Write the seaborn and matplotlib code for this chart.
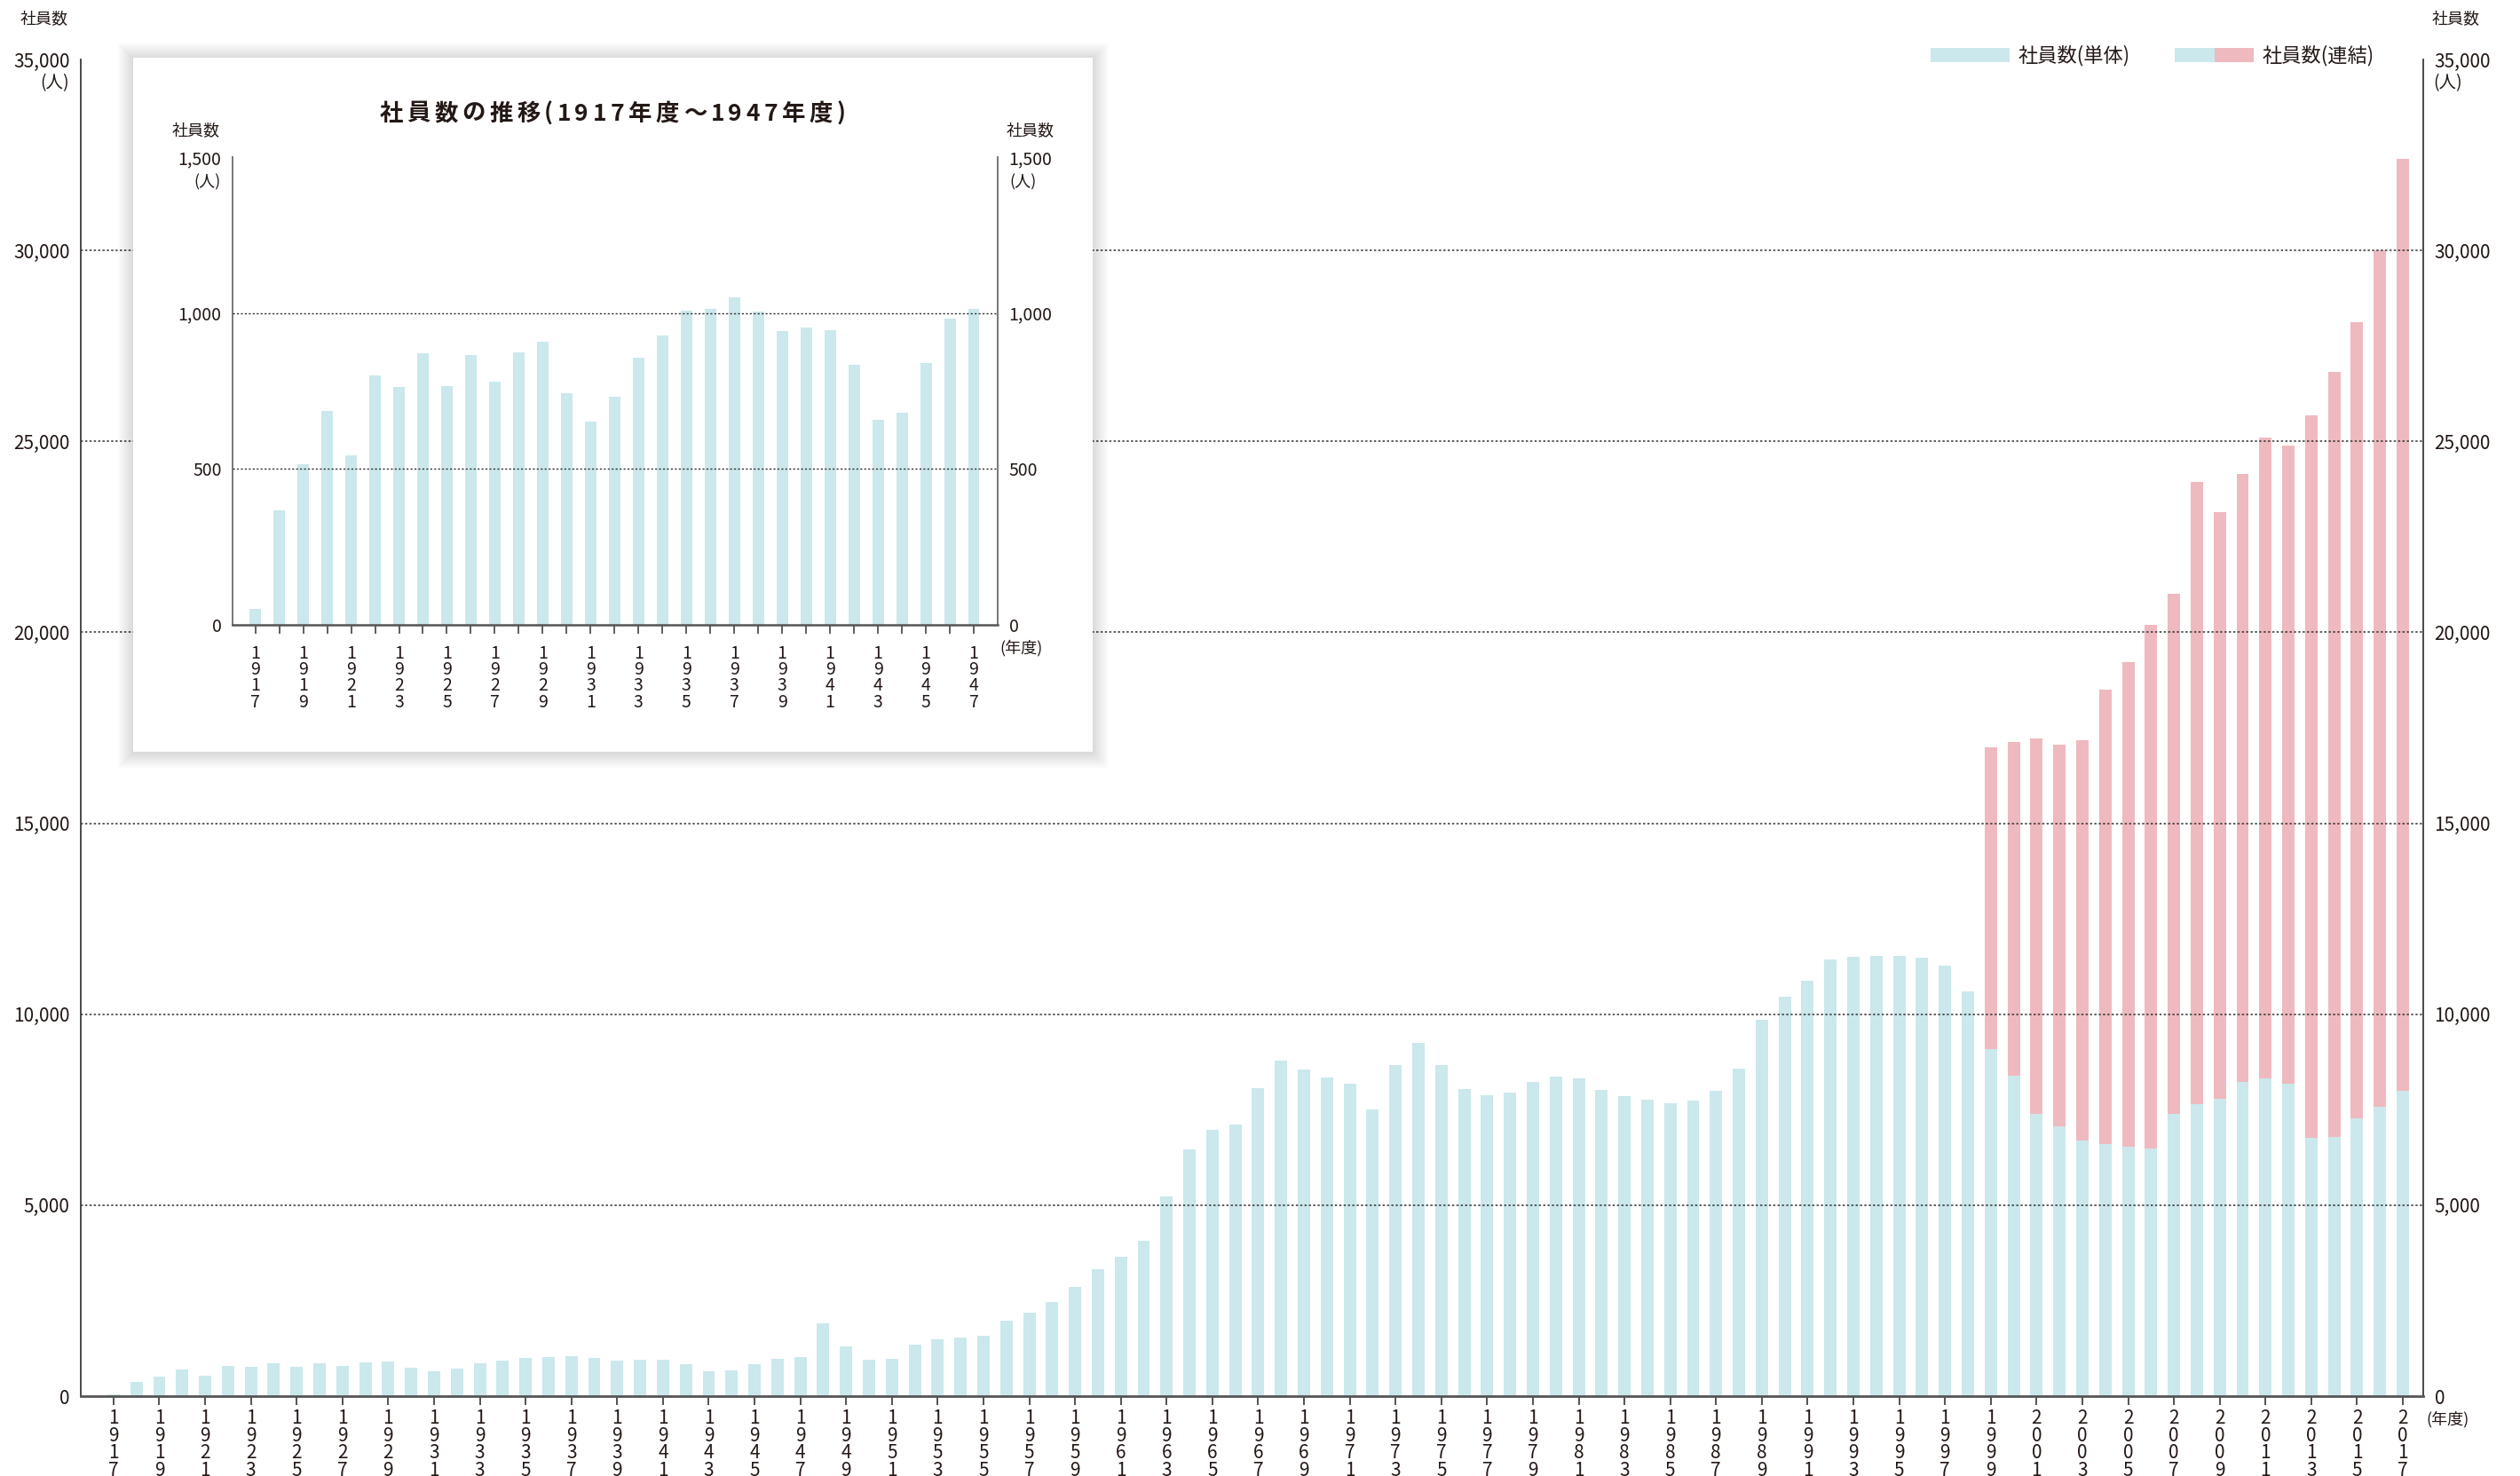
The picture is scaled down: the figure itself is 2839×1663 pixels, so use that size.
import matplotlib
matplotlib.use('Agg')
import matplotlib.pyplot as plt
import seaborn as sns
import pandas as pd
from matplotlib.patches import Patch, Rectangle
from matplotlib.legend_handler import HandlerTuple

# ---------------- data ----------------
years = list(range(1917, 2018))
standalone = [
    50, 367, 516, 687, 545, 799, 764, 871, 767, 864,            # 1917-1926
    781, 874, 909, 743, 651, 732, 858, 929, 1009, 1012,          # 1927-1936
    1051, 1006, 941, 954, 945, 835, 657, 681, 841, 983,          # 1937-1946
    1013, 1915, 1310, 961, 984, 1357, 1496, 1543, 1589, 1984,    # 1947-1956
    2194, 2473, 2868, 3333, 3659, 4078, 5240, 6460, 6970, 7110,  # 1957-1966
    8068, 8787, 8555, 8346, 8184, 7512, 8671, 9250, 8671, 8045,  # 1967-1976
    7883, 7952, 8230, 8369, 8323, 8022, 7859, 7767, 7674, 7743,  # 1977-1986
    7984, 8566, 9845, 10450, 10868, 11426, 11496, 11519, 11519, 11473,  # 1987-1996
    11264, 10589, 9078, 8380, 7388, 7054, 6682, 6589, 6519, 6473,       # 1997-2006
    7380, 7636, 7775, 8217, 8310, 8171, 6752, 6775, 7264, 7566,         # 2007-2016
    7984,                                                                # 2017
]
consolidated_years = list(range(1999, 2018))
consolidated = [
    17000, 17120, 17210, 17060, 17180, 18500, 19230, 20190, 21000, 23930,
    23140, 24140, 25090, 24900, 25690, 26830, 28120, 30000, 32400,
]
inset_years = years[:31]
inset_values = standalone[:31]

main_yticks = [0, 5000, 10000, 15000, 20000, 25000, 30000, 35000]
inset_yticks = [0, 500, 1000, 1500]

legend_labels = ['社員数(単体)', '社員数(連結)']
inset_title = '社員数の推移(1917年度～1947年度)'

# ---------------- style ----------------
BLUE = '#cbe8ec'
PINK = '#efb9c0'
INK = '#231815'
AXC = '#3a3a3a'

sns.set_theme(style='white')
plt.rcParams['font.family'] = ['Noto Sans CJK JP', 'DejaVu Sans']
plt.rcParams['axes.unicode_minus'] = False

W, H = 2839, 1663
fig = plt.figure(figsize=(W / 100, H / 100), dpi=100)
fig.patch.set_facecolor('white')


def fx(px):
    return px / W


def fy(py):
    return 1 - py / H


# ---------------- main chart ----------------
ax = fig.add_axes([fx(91), fy(1573), fx(2730) - fx(91), fy(67) - fy(1573)])
ax.set_zorder(0)
order = [str(y) for y in years]
df = pd.DataFrame({'year': order, 'value': standalone})
dfc = pd.DataFrame({'year': [str(y) for y in consolidated_years], 'value': consolidated})

sns.barplot(data=dfc, x='year', y='value', order=order, color=PINK, saturation=1,
            width=0.54, linewidth=0, errorbar=None, ax=ax, zorder=2)
sns.barplot(data=df, x='year', y='value', order=order, color=BLUE, saturation=1,
            width=0.54, linewidth=0, errorbar=None, ax=ax, zorder=2)

ax.set_xlim(-1.43, 100.89)
ax.set_ylim(0, 35000)
for v in main_yticks[1:-1]:
    ax.axhline(v, color='#333333', lw=1.1, ls=(0, (1.6, 1.6)), zorder=3)

ax.set_yticks(main_yticks)
ax.set_yticklabels([f'{v:,}' for v in main_yticks])
ax.tick_params(axis='y', left=False, right=False, length=0, labelsize=15,
               labelcolor=INK, pad=9, labelleft=True, labelright=True)
xt = list(range(0, len(years), 2))
ax.set_xticks(xt)
ax.set_xticklabels(['\n'.join(str(years[i])) for i in xt], linespacing=0.86)
ax.tick_params(axis='x', bottom=True, length=7, width=1.3, color='#444444',
               direction='out', labelsize=15, labelcolor=INK, pad=3)
ax.set_xlabel('')
ax.set_ylabel('')
ax.grid(False)
for s in ['left', 'right']:
    ax.spines[s].set_visible(True)
    ax.spines[s].set_color(AXC)
    ax.spines[s].set_linewidth(1.3)
ax.spines['bottom'].set_color('#555555')
ax.spines['bottom'].set_linewidth(2)
ax.spines['top'].set_visible(False)

fig.text(fx(50), fy(22), '社員数', ha='center', va='center', fontsize=13, color=INK)
fig.text(fx(2767), fy(22), '社員数', ha='center', va='center', fontsize=13, color=INK)
fig.text(fx(78), fy(94), '(人)', ha='right', va='center', fontsize=14, color=INK)
fig.text(fx(2741), fy(94), '(人)', ha='left', va='center', fontsize=14, color=INK)
fig.text(fx(2733), fy(1599), '(年度)', ha='left', va='center', fontsize=13, color=INK)

# legend
h1 = Patch(facecolor=BLUE, edgecolor='none')
h2 = (Patch(facecolor=BLUE, edgecolor='none'), Patch(facecolor=PINK, edgecolor='none'))
leg = fig.legend([h1, h2], legend_labels,
                 handler_map={tuple: HandlerTuple(ndivide=None, pad=0)},
                 loc='center left', bbox_to_anchor=(fx(2175), fy(63)), ncol=2,
                 frameon=False, fontsize=16, handlelength=4.0, handleheight=0.7,
                 handletextpad=0.42, columnspacing=2.3, borderpad=0, borderaxespad=0)
for t in leg.get_texts():
    t.set_color(INK)

# ---------------- inset panel ----------------
px0, py0, px1, py1 = 150, 65, 1231, 847
for k in range(18, 0, -1):
    r = Rectangle((fx(px0 - k), fy(py1 + k + 1)), fx(px1 + k) - fx(px0 - k),
                  fy(py0 - k + 1) - fy(py1 + k + 1), transform=fig.transFigure,
                  facecolor='black', edgecolor='none', alpha=0.009, zorder=1)
    fig.add_artist(r)
panel = Rectangle((fx(px0), fy(py1)), fx(px1) - fx(px0), fy(py0) - fy(py1),
                  transform=fig.transFigure, facecolor='white', edgecolor='none', zorder=1.5)
fig.add_artist(panel)

ax2 = fig.add_axes([fx(262), fy(704), fx(1124) - fx(262), fy(177) - fy(704)])
ax2.set_zorder(2)
ax2.set_facecolor('white')
iorder = [str(y) for y in inset_years]
dfi = pd.DataFrame({'year': iorder, 'value': inset_values})
sns.barplot(data=dfi, x='year', y='value', order=iorder, color=BLUE, saturation=1,
            width=0.48, linewidth=0, errorbar=None, ax=ax2, zorder=2)
ax2.set_xlim(-0.95, 31.0)
ax2.set_ylim(0, 1500)
for v in inset_yticks[1:-1]:
    ax2.axhline(v, color='#333333', lw=1.0, ls=(0, (1.6, 1.6)), zorder=3)
ax2.set_yticks(inset_yticks)
ax2.set_yticklabels([f'{v:,}' for v in inset_yticks])
ax2.tick_params(axis='y', left=False, right=False, length=0, labelsize=14,
                labelcolor=INK, pad=9, labelleft=True, labelright=True)
ax2.set_xticks(list(range(len(inset_years))))
ax2.set_xticklabels(['\n'.join(str(y)) if i % 2 == 0 else '' for i, y in enumerate(inset_years)],
                    linespacing=0.82)
ax2.tick_params(axis='x', bottom=True, length=7, width=1.2, color='#444444',
                direction='out', labelsize=14, labelcolor=INK, pad=9)
ax2.set_xlabel('')
ax2.set_ylabel('')
ax2.grid(False)
for s in ['left', 'right']:
    ax2.spines[s].set_visible(True)
    ax2.spines[s].set_color('#777777')
    ax2.spines[s].set_linewidth(1.4)
ax2.spines['bottom'].set_color('#555555')
ax2.spines['bottom'].set_linewidth(1.8)
ax2.spines['top'].set_visible(False)

# letter-spaced bold title of the inset
renderer = fig.canvas.get_renderer()
title_kw = dict(fontsize=19, fontweight='bold', color=INK, zorder=3, va='center', ha='left')
char_w = []
for c in inset_title:
    t = fig.text(0, 0, c, **title_kw)
    char_w.append(t.get_window_extent(renderer).width)
    t.remove()
target_w = 525.0
gap = (target_w - sum(char_w)) / (len(inset_title) - 1)
xpos = 690 - target_w / 2
for c, w in zip(inset_title, char_w):
    fig.text(fx(xpos), fy(128), c, **title_kw)
    xpos += w + gap

fig.text(fx(221), fy(148), '社員数', ha='center', va='center', fontsize=13, color=INK, zorder=3)
fig.text(fx(1161), fy(148), '社員数', ha='center', va='center', fontsize=13, color=INK, zorder=3)
fig.text(fx(249), fy(205), '(人)', ha='right', va='center', fontsize=13, color=INK, zorder=3)
fig.text(fx(1137), fy(205), '(人)', ha='left', va='center', fontsize=13, color=INK, zorder=3)
fig.text(fx(1126), fy(730), '(年度)', ha='left', va='center', fontsize=13, color=INK, zorder=3)

fig.savefig('out.png', dpi=100, facecolor='white')
